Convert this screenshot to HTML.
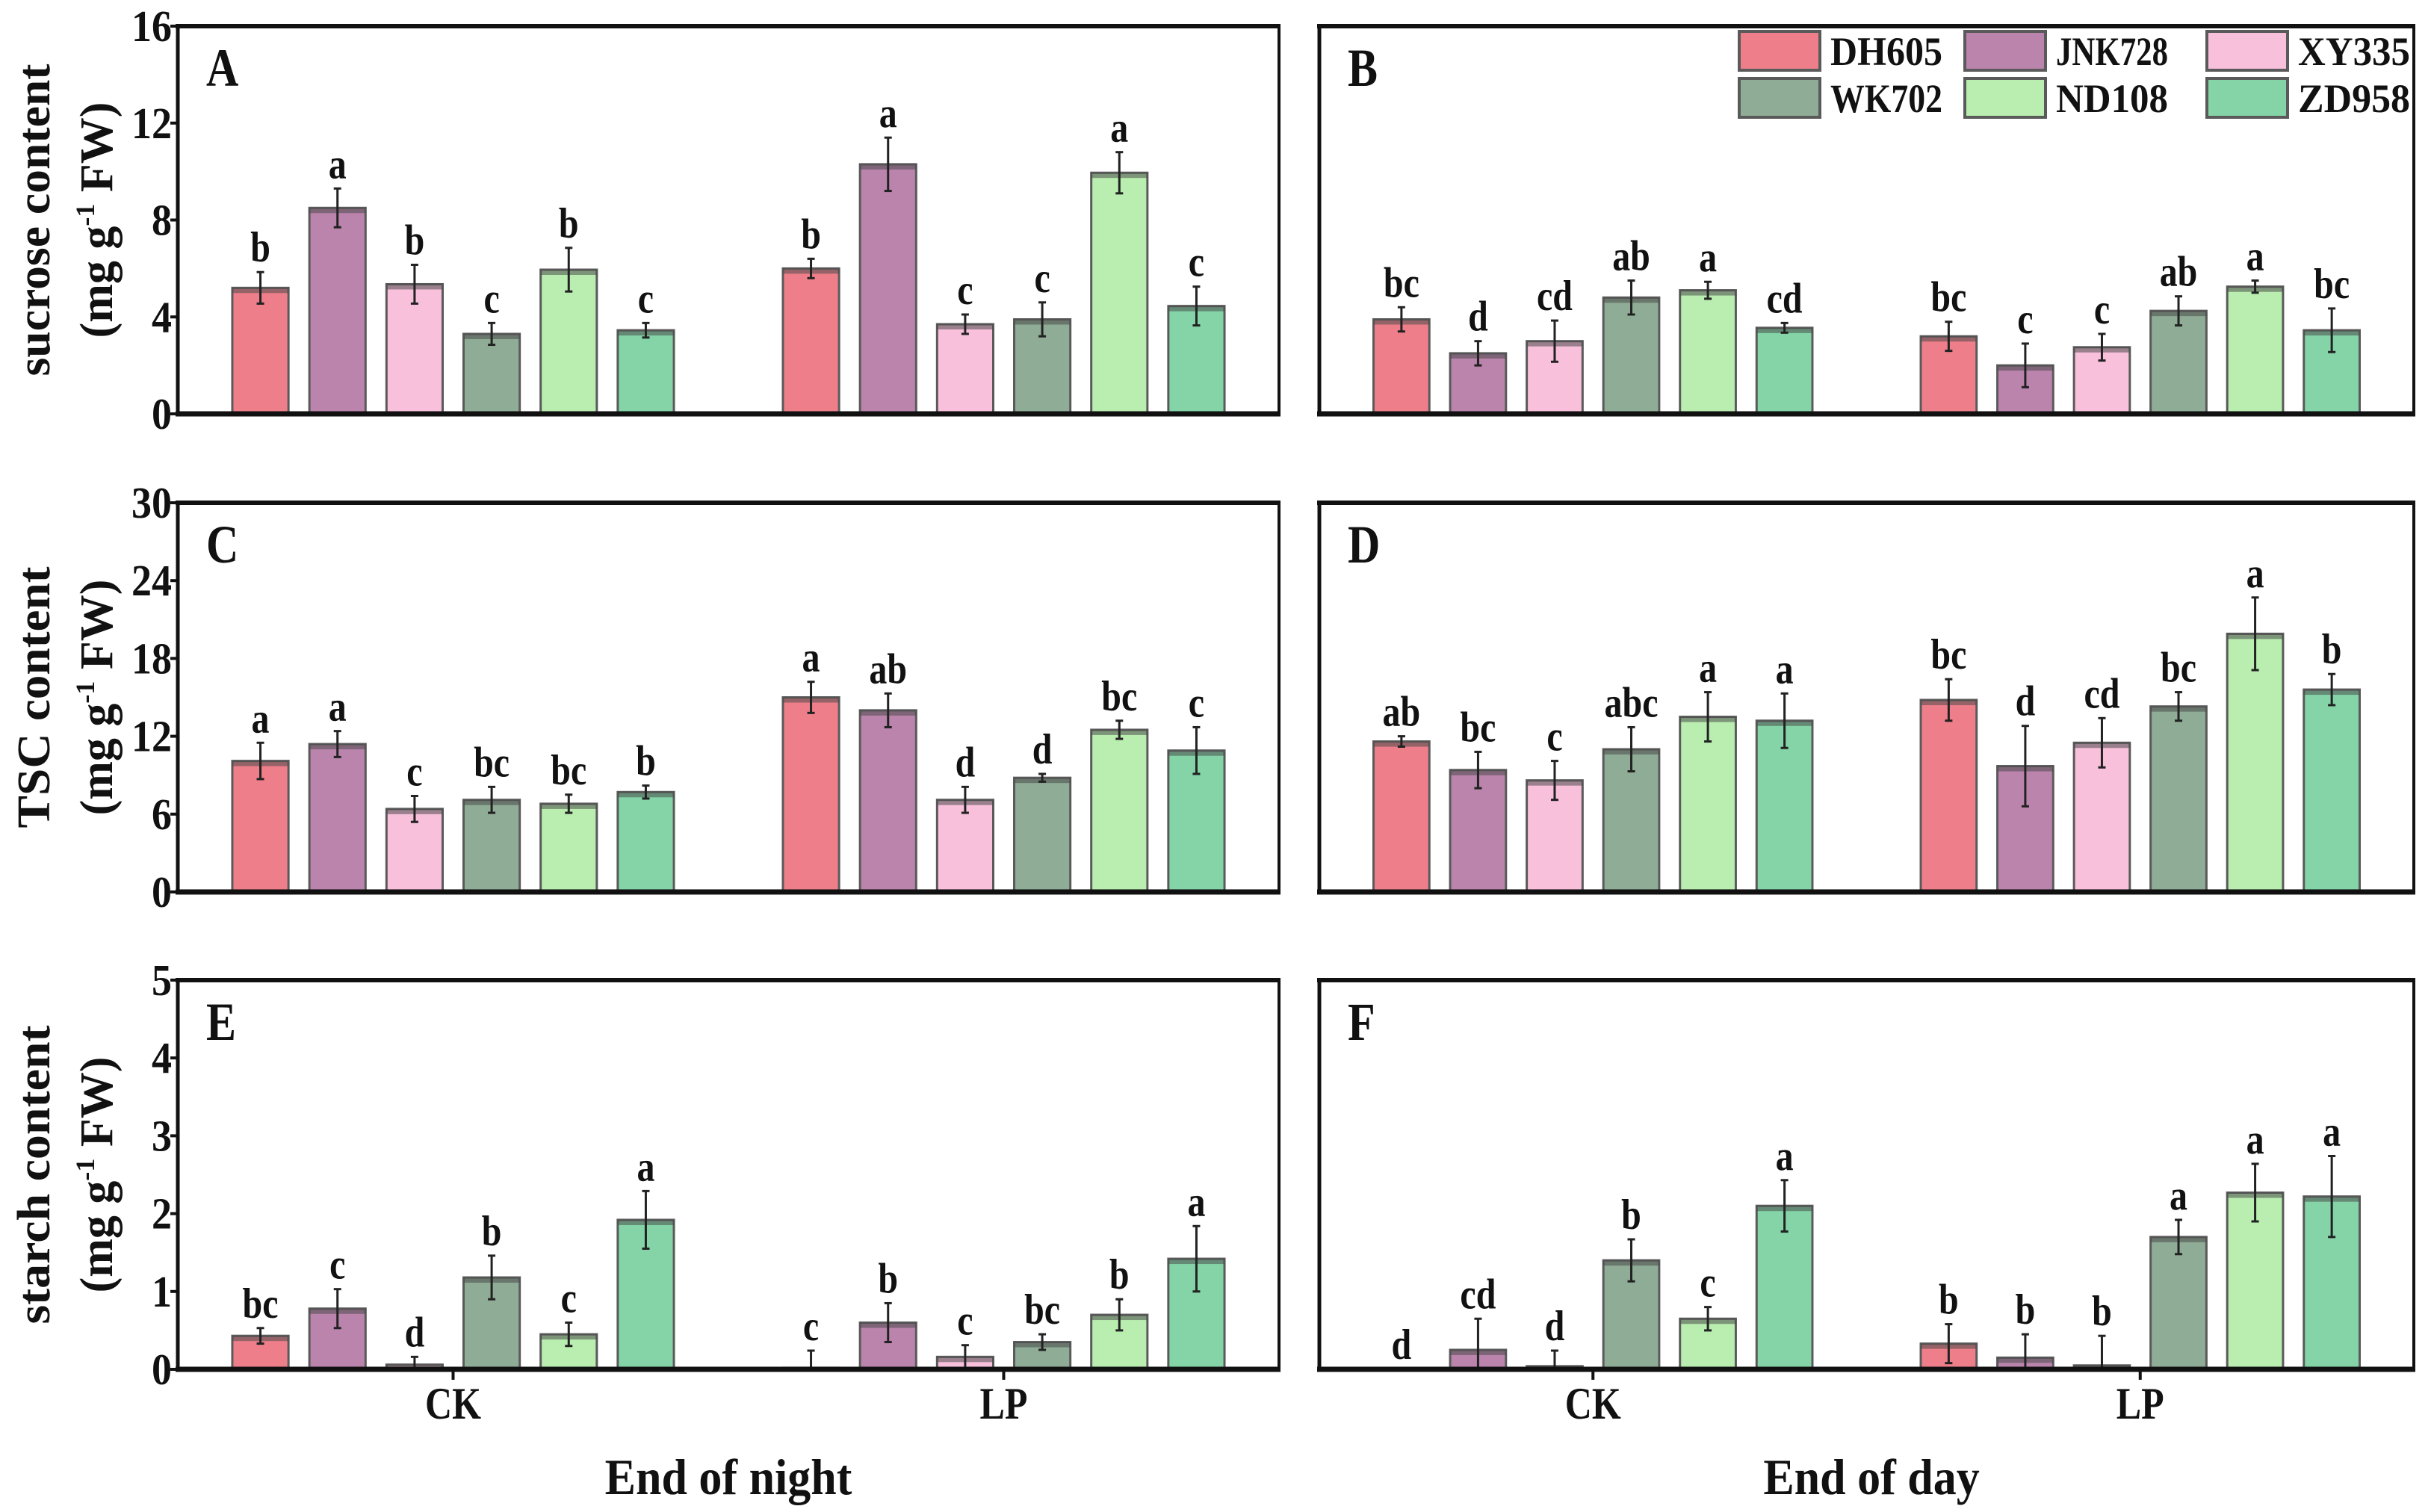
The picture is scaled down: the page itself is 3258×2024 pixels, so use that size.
<!DOCTYPE html>
<html><head><meta charset="utf-8"><style>
body{margin:0;background:#fff}
svg{display:block;font-family:"Liberation Serif",serif;font-weight:bold}
</style></head><body>
<svg id="fig" width="3258" height="2024" viewBox="0 0 3258 2024" xmlns="http://www.w3.org/2000/svg"></svg>
<script>
const genotypes=["DH605","JNK728","XY335","WK702","ND108","ZD958"];
const colors=["#ee7f8a","#bb84ad","#f9c0dc","#8fac96","#b9eeb0","#84d4a8"];
const groups=["CK","LP"];
const aVals=[[5.2,8.5,5.35,3.3,5.95,3.45],[6.0,10.3,3.7,3.9,9.95,4.45]];
const aErr=[[0.65,0.8,0.8,0.45,0.9,0.3],[0.4,1.1,0.4,0.7,0.85,0.8]];
const aLet=[["b","a","b","c","b","c"],["b","a","c","c","a","c"]];
const bVals=[[3.9,2.5,3.0,4.8,5.1,3.55],[3.2,2.0,2.75,4.25,5.25,3.45]];
const bErr=[[0.5,0.5,0.85,0.7,0.35,0.2],[0.6,0.9,0.55,0.6,0.25,0.9]];
const bLet=[["bc","d","cd","ab","a","cd"],["bc","c","c","ab","a","bc"]];
const cVals=[[10.1,11.4,6.4,7.1,6.8,7.7],[15.0,14.0,7.1,8.8,12.5,10.9]];
const cErr=[[1.4,1.0,1.0,1.0,0.7,0.5],[1.2,1.3,1.0,0.3,0.7,1.8]];
const cLet=[["a","a","c","bc","bc","b"],["a","ab","d","d","bc","c"]];
const dVals=[[11.6,9.4,8.6,11.0,13.5,13.2],[14.8,9.7,11.5,14.3,19.9,15.6]];
const dErr=[[0.4,1.4,1.5,1.7,1.9,2.1],[1.6,3.1,1.9,1.1,2.8,1.2]];
const dLet=[["ab","bc","c","abc","a","a"],["bc","d","cd","bc","a","b"]];
const eVals=[[0.43,0.78,0.06,1.18,0.45,1.92],[0.02,0.6,0.16,0.35,0.7,1.42]];
const eErr=[[0.1,0.25,0.1,0.28,0.15,0.37],[0.22,0.25,0.15,0.1,0.2,0.42]];
const eLet=[["bc","c","d","b","c","a"],["c","b","c","bc","b","a"]];
const fVals=[[0,0.25,0.04,1.4,0.65,2.1],[0.33,0.15,0.05,1.7,2.27,2.22]];
const fErr=[[0,0.4,0.2,0.27,0.15,0.33],[0.25,0.3,0.38,0.22,0.37,0.52]];
const fLet=[["d","cd","d","b","c","a"],["b","b","b","a","a","a"]];
const ticksSucrose=[0,4,8,12,16];
const ticksTSC=[0,6,12,18,24,30];
const ticksStarch=[0,1,2,3,4,5];

const NS="http://www.w3.org/2000/svg";
const svg=document.getElementById("fig");
function mk(tag,attrs,parent){const e=document.createElementNS(NS,tag);for(const k in attrs)e.setAttribute(k,attrs[k]);(parent||svg).appendChild(e);return e;}

const cols=[{x0:238,x1:1712},{x0:1766,x1:3231}];
const rows=[{y0:35,y1:554},{y0:673,y1:1194},{y0:1312,y1:1833}];

function panel(name,col,row,vals,errs,lets,ticks,showTicks,showX){
  const g=mk("g",{});
  
  
  const x0=cols[col].x0,x1=cols[col].x1,y0=rows[row].y0,y1=rows[row].y1;
  const ymax=ticks[ticks.length-1];
  const ys=v=>y1-(v/ymax)*(y1-y0);
  const W=x1-x0;
  const xs=(gi,k)=>x0+W*(0.25+0.5*gi+(k-2.5)*0.07);
  const bw=W*0.051;
  for(let gi=0;gi<groups.length;gi++){
    for(let k=0;k<genotypes.length;k++){
      const v=vals[gi][k],e=errs[gi][k],cx=xs(gi,k);
      if(v>0){
        const r=mk("rect",{x:cx-bw/2,y:ys(v),width:bw,height:y1-ys(v),fill:colors[k],stroke:"#5a5a5a","stroke-width":3},g);
        
        
        mk("rect",{x:cx-bw/2,y:ys(v),width:bw,height:Math.min(7,y1-ys(v)),fill:"#4a4a4a","fill-opacity":0.55},g);
      }
      if(e>0){
        const eb=mk("g",{stroke:"#222","stroke-width":3},g);
        
        
        mk("line",{x1:cx,x2:cx,y1:ys(v+e),y2:ys(Math.max(0,v-e))},eb);
        mk("line",{x1:cx-5,x2:cx+5,y1:ys(v+e),y2:ys(v+e)},eb);
        mk("line",{x1:cx-5,x2:cx+5,y1:ys(Math.max(0,v-e)),y2:ys(Math.max(0,v-e))},eb);
      }
      const t=mk("text",{x:0,y:0,"text-anchor":"middle","font-size":48,fill:"#111",transform:`translate(${cx},${ys(v+e)-14}) scale(1,1.2)`},g);
      t.textContent=lets[gi][k];
      
      
    }
  }
  const fr=mk("rect",{x:x0,y:y0,width:W,height:y1-y0,fill:"none",stroke:"#111","stroke-width":4},g);
  
  
  mk("line",{x1:x0-3,x2:x1+2,y1:y1,y2:y1,stroke:"#111","stroke-width":7},g);
  mk("line",{x1:x0-3,x2:x1+2,y1:y0,y2:y0,stroke:"#111","stroke-width":6},g);
  mk("line",{x1:x0,x2:x0,y1:y0,y2:y1,stroke:"#111","stroke-width":5},g);
  if(showTicks){
    ticks.forEach(tv=>{
      mk("line",{x1:x0-10,x2:x0,y1:ys(tv),y2:ys(tv),stroke:"#111","stroke-width":4},g);
      const t=mk("text",{x:0,y:0,"text-anchor":"end","font-size":54,fill:"#111",transform:`translate(${x0-8},${ys(tv)+20}) scale(1,1.1)`},g);
      t.textContent=tv;
      
      
    });
  }
  if(showX){
    groups.forEach((gn,gi)=>{
      const cx=x0+W*(0.25+0.5*gi);
      mk("line",{x1:cx,x2:cx,y1:y1,y2:y1+14,stroke:"#111","stroke-width":4},g);
      const t=mk("text",{x:0,y:0,"text-anchor":"middle","font-size":50,fill:"#111",transform:`translate(${cx},${y1+66}) scale(1,1.2)`},g);
      t.textContent=gn;
      
      
    });
  }
  const pl=mk("text",{x:0,y:0,"font-size":60,fill:"#111",transform:`translate(${x0+38},${y0+80}) scale(1,1.2)`},g);
  pl.textContent=name;
  
  
}
panel("A",0,0,aVals,aErr,aLet,ticksSucrose,true,false);
panel("B",1,0,bVals,bErr,bLet,ticksSucrose,false,false);
panel("C",0,1,cVals,cErr,cLet,ticksTSC,true,false);
panel("D",1,1,dVals,dErr,dLet,ticksTSC,false,false);
panel("E",0,2,eVals,eErr,eLet,ticksStarch,true,true);
panel("F",1,2,fVals,fErr,fLet,ticksStarch,false,true);

const ytitles=["sucrose content","TSC content","starch content"];
const ytitleLens=[418,350,400];
ytitles.forEach((tt,ri)=>{
  const cy=(rows[ri].y0+rows[ri].y1)/2;
  const t1=mk("text",{x:0,y:0,"text-anchor":"middle","font-size":62,fill:"#111",transform:`translate(66,${cy}) rotate(-90)`,textLength:ytitleLens[ri],lengthAdjust:"spacingAndGlyphs"});
  t1.textContent=tt;
  
  
  const t2=mk("text",{x:0,y:0,"text-anchor":"middle","font-size":62,fill:"#111",transform:`translate(150,${cy}) rotate(-90)`});
  
  
  mk("tspan",{},t2).textContent="(mg g";
  mk("tspan",{dy:-24,"font-size":36},t2).textContent="-1";
  mk("tspan",{dy:24},t2).textContent=" FW)";
});
[["End of night",975],["End of day",2505]].forEach(([s,x])=>{
  const t=mk("text",{x:0,y:0,"text-anchor":"middle","font-size":62,fill:"#111",transform:`translate(${x},2000) scale(1,1.1)`});
  t.textContent=s;
  
  
});
const lg=mk("g",{});


const lx=[2328,2630,2954],ly=[42,105];
genotypes.forEach((gn,i)=>{
  const c=i%3,r=Math.floor(i/3);
  const e=mk("g",{},lg);
  
  
  mk("rect",{x:lx[c],y:ly[r],width:108,height:52,fill:colors[i],stroke:"#5a5a5a","stroke-width":4},e);
  const t=mk("text",{x:lx[c]+122,y:ly[r]+45,"font-size":54,fill:"#111",textLength:150,lengthAdjust:"spacingAndGlyphs"},e);
  t.textContent=gn;
});
</script>
</body></html>
